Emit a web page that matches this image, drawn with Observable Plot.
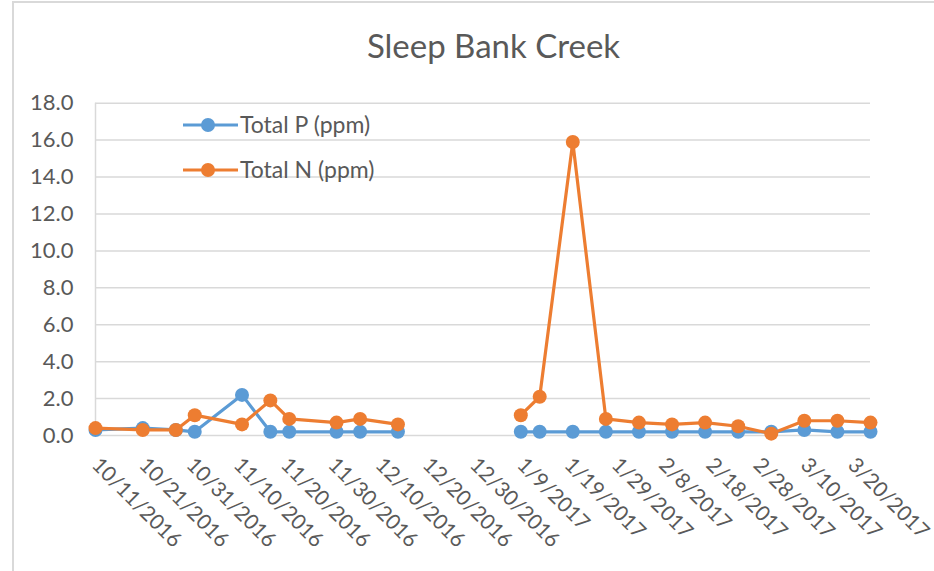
<!DOCTYPE html>
<html>
<head>
<meta charset="utf-8">
<script src="https://cdn.jsdelivr.net/npm/d3@7"></script>
<script src="https://cdn.jsdelivr.net/npm/@observablehq/plot@0.6"></script>
<style>
  body { margin: 0; background: #fff; font-family: Lato, "Open Sans", sans-serif; }
  #wrap { position: relative; width: 934px; height: 571px; overflow: hidden; background: #fff; }
  #frame { position: absolute; left: 12px; top: 1px; width: 940px; height: 600px;
           border-left: 2px solid #d9d9d9; border-top: 2px solid #d9d9d9; pointer-events: none; }
  #title { position: absolute; left: 0; top: 26px; width: 934px; padding-left: 53px; box-sizing: border-box;
           text-align: center; font-size: 33px; color: #595959; line-height: 1.2; }
  .leg { position: absolute; left: 183px; display: flex; align-items: center; font-size: 23px; color: #595959; line-height: 1; }
  .leg svg { display: block; margin-right: 2px; }
  #chart { position: absolute; left: 0; top: 0; }
</style>
</head>
<body>
<div id="wrap">
  <div id="chart"></div>
  <div id="title">Sleep Bank Creek</div>
  <div id="legend"></div>
  <div id="frame"></div>
</div>
<script>
// ---- data ----
const sampleDates = ["2016-10-11","2016-10-21","2016-10-28","2016-11-01","2016-11-11","2016-11-17","2016-11-21","2016-12-01","2016-12-06","2016-12-14",
                     "2017-01-09","2017-01-13","2017-01-20","2017-01-27","2017-02-03","2017-02-10","2017-02-17","2017-02-24","2017-03-03","2017-03-10","2017-03-17","2017-03-24"];
const totalP = [0.3, 0.4, 0.3, 0.2, 2.2, 0.2, 0.2, 0.2, 0.2, 0.2,
                0.2, 0.2, 0.2, 0.2, 0.2, 0.2, 0.2, 0.2, 0.2, 0.3, 0.2, 0.2];
const totalN = [0.4, 0.3, 0.3, 1.1, 0.6, 1.9, 0.9, 0.7, 0.9, 0.6,
                1.1, 2.1, 15.9, 0.9, 0.7, 0.6, 0.7, 0.5, 0.1, 0.8, 0.8, 0.7];
const seriesNames = ["Total P (ppm)", "Total N (ppm)"];
const tickDates = ["2016-10-11","2016-10-21","2016-10-31","2016-11-10","2016-11-20","2016-11-30","2016-12-10","2016-12-20","2016-12-30",
                   "2017-01-09","2017-01-19","2017-01-29","2017-02-08","2017-02-18","2017-02-28","2017-03-10","2017-03-20"];
const yTicks = [0, 2, 4, 6, 8, 10, 12, 14, 16, 18];
const gapAfter = "2016-12-31"; // samples split into two runs (no data in between)

// ---- build ----
const parse = d3.utcParse("%Y-%m-%d");
const fmt = d3.utcFormat("%-m/%-d/%Y");
const gapDate = parse(gapAfter);
const rows = sampleDates.map((d, i) => ({ date: parse(d), p: totalP[i], n: totalN[i], seg: parse(d) < gapDate ? 0 : 1 }));
const ticks = tickDates.map(parse);
const BLUE = "#5B9BD5", ORANGE = "#ED7D31";

const chart = Plot.plot({
  width: 934, height: 571,
  marginLeft: 95, marginRight: 64, marginTop: 102.7, marginBottom: 136,
  style: { fontFamily: "Lato, 'Open Sans', sans-serif", fontSize: "21px", color: "#595959", background: "transparent" },
  x: { type: "utc", domain: [rows[0].date, rows[rows.length - 1].date] },
  y: { domain: [0, 18] },
  marks: [
    Plot.gridY(yTicks, { stroke: "#d9d9d9", strokeOpacity: 1, strokeWidth: 1.5 }),
    Plot.ruleX([rows[0].date], { stroke: "#d9d9d9", strokeWidth: 1.5 }),
    Plot.axisY(yTicks, { tickSize: 0, tickPadding: 22, tickFormat: d => d.toFixed(1), label: null, fill: "#595959", fontSize: 22 }),
    Plot.axisX(ticks, { tickSize: 0, tickPadding: 26, tickRotate: 45, tickFormat: fmt, label: null, fill: "#595959", fontSize: 21 }),
    Plot.line(rows, { x: "date", y: "p", z: "seg", stroke: BLUE, strokeWidth: 3.2 }),
    Plot.dot(rows, { x: "date", y: "p", r: 7, fill: BLUE }),
    Plot.line(rows, { x: "date", y: "n", z: "seg", stroke: ORANGE, strokeWidth: 3.2 }),
    Plot.dot(rows, { x: "date", y: "n", r: 7, fill: ORANGE })
  ]
});
document.getElementById("chart").appendChild(chart);

// legend
const legend = document.getElementById("legend");
[[seriesNames[0], BLUE, 124], [seriesNames[1], ORANGE, 169]].forEach(([name, col, cy]) => {
  const div = document.createElement("div");
  div.className = "leg";
  div.style.top = (cy - 11) + "px";
  div.innerHTML = `<svg width="55" height="22"><line x1="0" y1="11" x2="55" y2="11" stroke="${col}" stroke-width="3.2"/><circle cx="25" cy="11" r="7" fill="${col}"/></svg><span>${name}</span>`;
  legend.appendChild(div);
});
</script>
</body>
</html>
